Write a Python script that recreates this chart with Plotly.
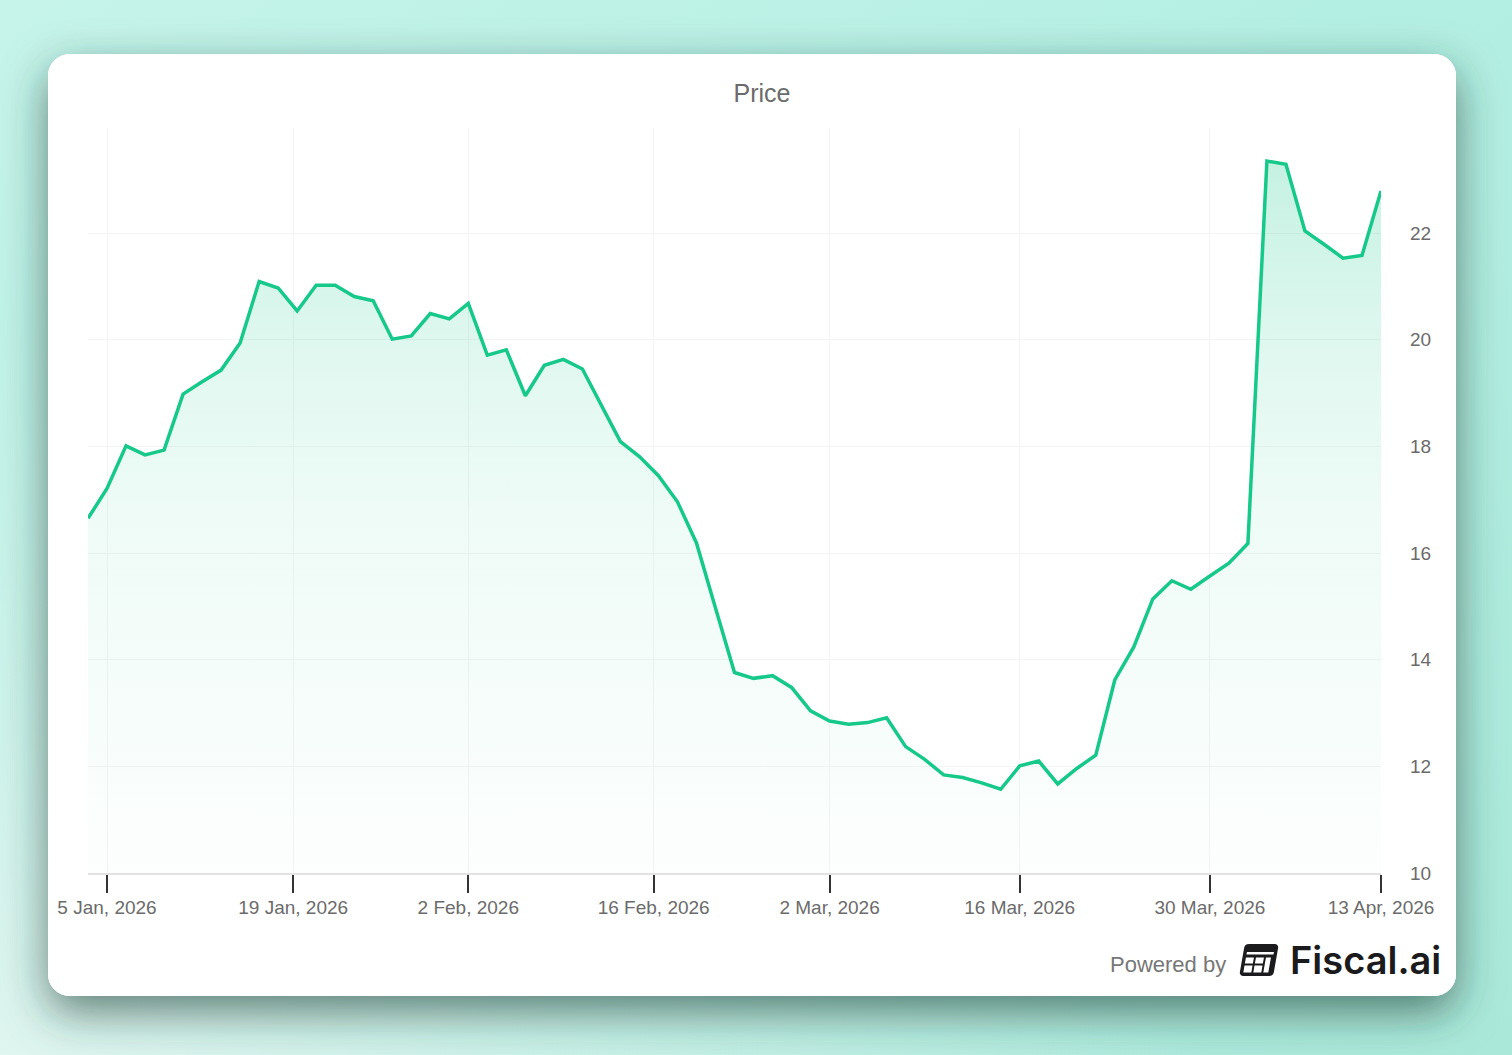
import base64
import pandas as pd
import plotly.graph_objects as go

# ---------------- data ----------------
holidays = ["2026-01-19", "2026-02-16", "2026-04-03"]
dates = [d for d in pd.bdate_range("2026-01-02", "2026-04-13") if d.strftime("%Y-%m-%d") not in holidays]

prices = [
    16.65, 17.21, 18.01, 17.84, 17.93, 18.98, 19.21, 19.43, 19.94, 21.09,
    20.97, 20.54, 21.02, 21.02, 20.81, 20.73, 20.01, 20.07, 20.49, 20.39,
    20.68, 19.71, 19.81, 18.95, 19.52, 19.63, 19.45, 18.77, 18.09, 17.81,
    17.45, 16.96, 16.19, 14.97, 13.76, 13.65, 13.70, 13.48, 13.04, 12.85,
    12.79, 12.82, 12.91, 12.37, 12.13, 11.84, 11.79, 11.69, 11.57, 12.01,
    12.10, 11.67, 11.96, 12.21, 13.62, 14.24, 15.14, 15.48, 15.32, 15.57,
    15.81, 16.18, 23.35, 23.29, 22.04, 21.79, 21.53, 21.58, 22.79,
]

# tick positions: holiday dates (19 Jan, 16 Feb) fall inside the axis breaks,
# so their ticks are placed at the end of the preceding session
x_tick_pos = ["2026-01-05", "2026-01-16 19:00", "2026-02-02", "2026-02-13 18:00",
              "2026-03-02", "2026-03-16", "2026-03-30", "2026-04-13"]
x_tick_labels = ["5 Jan, 2026", "19 Jan, 2026", "2 Feb, 2026", "16 Feb, 2026",
                 "2 Mar, 2026", "16 Mar, 2026", "30 Mar, 2026", "13 Apr, 2026"]
y_tick_vals = [10, 12, 14, 16, 18, 20, 22]

# ---------------- layout geometry ----------------
W, H = 1512, 1055
L, R, T, B = 88, 1381, 128, 873
PW, PH = R - L, B - T


def px(xp):
    return (xp - L) / PW


def py(yp):
    return (B - yp) / PH


GREEN = "#16c98a"
FONT = "Liberation Sans, Arial, Helvetica, sans-serif"

# ---------------- background (teal gradient + card + shadow + logo icon) ----------------
svg = f"""<svg xmlns='http://www.w3.org/2000/svg' width='{W}' height='{H}' viewBox='0 0 {W} {H}'>
<defs>
<linearGradient id='bg' x1='0' y1='0' x2='1' y2='1'>
<stop offset='0' stop-color='#c6f4ea'/>
<stop offset='0.45' stop-color='#b4efe3'/>
<stop offset='1' stop-color='#aae9da'/>
</linearGradient>
<linearGradient id='bl' x1='0' y1='1' x2='0.35' y2='0.6'>
<stop offset='0' stop-color='#e4f6f1' stop-opacity='0.9'/>
<stop offset='1' stop-color='#e4f6f1' stop-opacity='0'/>
</linearGradient>
<filter id='sh' x='-10%' y='-10%' width='120%' height='125%'>
<feDropShadow dx='0' dy='16' stdDeviation='22' flood-color='#1a3a33' flood-opacity='0.62'/>
</filter>
</defs>
<rect x='0' y='0' width='{W}' height='{H}' fill='url(#bg)'/>
<rect x='0' y='0' width='{W}' height='{H}' fill='url(#bl)'/>
<rect x='48' y='54' width='1408' height='942' rx='22' ry='22' fill='#ffffff' filter='url(#sh)'/>
<rect x='48' y='54' width='1408' height='942' rx='22' ry='22' fill='#ffffff'/>
<g transform='translate(1259,960) skewX(-10)'>
<rect x='-17' y='-16' width='34' height='32' rx='4' ry='4' fill='#1b1b1d'/>
<rect x='-13.5' y='-8' width='27' height='2.6' fill='#ffffff'/>
<rect x='-13.5' y='-2.5' width='8' height='6' fill='#ffffff'/>
<rect x='-3.5' y='-2.5' width='8' height='6' fill='#ffffff'/>
<rect x='-13.5' y='5.5' width='8' height='7' fill='#ffffff'/>
<rect x='-3.5' y='5.5' width='8' height='7' fill='#ffffff'/>
<rect x='6.5' y='-2.5' width='5' height='15' fill='#ffffff'/>
</g>
</svg>"""
bg_uri = "data:image/svg+xml;base64," + base64.b64encode(svg.encode()).decode()

# ---------------- figure ----------------
fig = go.Figure()
fig.add_trace(go.Scatter(
    x=dates, y=prices, mode="lines",
    line=dict(color=GREEN, width=3.5),
    fill="tozeroy",
    fillgradient=dict(
        type="vertical",
        start=10, stop=23.4,
        colorscale=[[0, "rgba(22,201,138,0.01)"], [0.5, "rgba(22,201,138,0.07)"],
                    [0.75, "rgba(22,201,138,0.14)"], [1, "rgba(22,201,138,0.25)"]],
    ),
    hovertemplate="%{x|%-d %b, %Y}<br>%{y:.2f}<extra></extra>",
    showlegend=False,
))

fig.update_layout(
    width=W, height=H,
    margin=dict(l=L, r=W - R, t=T, b=H - B, pad=0),
    paper_bgcolor="#b8efe4",
    plot_bgcolor="rgba(0,0,0,0)",
    font=dict(family=FONT, color="#6b6b6b", size=19),
    title=dict(text="Price", x=762 / W, xref="container", xanchor="center",
               y=1 - 93 / H, yref="container", yanchor="middle",
               font=dict(family=FONT, size=25, color="#6b6b6b")),
    images=[dict(source=bg_uri, xref="paper", yref="paper",
                 x=px(0), y=py(0), sizex=W / PW, sizey=H / PH,
                 xanchor="left", yanchor="top", sizing="stretch", layer="below")],
    xaxis=dict(
        type="date",
        range=[dates[0], dates[-1]],
        rangebreaks=[dict(bounds=["sat", "mon"]), dict(values=holidays)],
        tickmode="array", tickvals=x_tick_pos, ticktext=x_tick_labels,
        ticks="outside", ticklen=18, tickwidth=2, tickcolor="#333333",
        showline=True, linecolor="#e2e2e2", linewidth=2,
        showgrid=True, gridcolor="#f4f4f4", gridwidth=1,
        zeroline=False,
        ticklabelstandoff=-2,
        tickfont=dict(family=FONT, size=19, color="#6b6b6b"),
    ),
    yaxis=dict(
        side="right",
        range=[10, 23.97],
        tickmode="array", tickvals=y_tick_vals,
        ticks="", showline=False,
        showgrid=True, gridcolor="#f4f4f4", gridwidth=1,
        zeroline=False,
        ticklabelstandoff=28,
        tickfont=dict(family=FONT, size=19, color="#6b6b6b"),
    ),
    annotations=[
        dict(text="Powered by", xref="paper", yref="paper", x=px(1228), y=py(964),
             xanchor="right", yanchor="middle", showarrow=False,
             font=dict(family=FONT, size=22, color="#777777")),
        dict(text="Fiscal.ai", xref="paper", yref="paper", x=px(1288), y=py(960),
             xanchor="left", yanchor="middle", showarrow=False,
             font=dict(family="Inter, Roboto, sans-serif", size=38, color="#1b1b1d", weight=600)),
    ],
)

fig.write_html("out.html", config={"displayModeBar": False},
               post_script="document.body.style.margin='0';")
